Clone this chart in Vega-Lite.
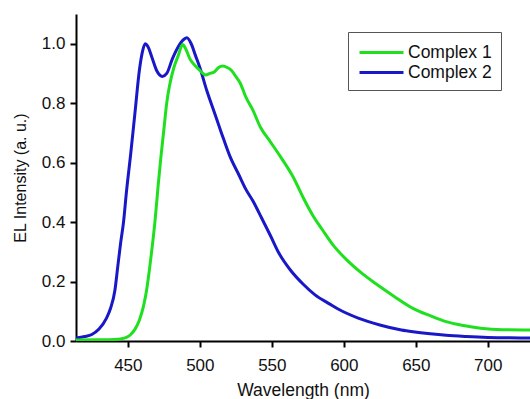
{
  "$schema": "https://vega.github.io/schema/vega-lite/v6.json",
  "autosize": "none",
  "width": 454,
  "height": 327,
  "padding": {"left": 76, "top": 14, "right": 0, "bottom": 58},
  "background": "white",
  "config": {
    "view": {"stroke": null},
    "font": "Liberation Sans",
    "axis": {
      "domainColor": "black", "domainWidth": 2,
      "tickColor": "black", "tickWidth": 2, "tickSize": 6,
      "labelFont": "Liberation Sans", "labelFontSize": 17, "labelColor": "#111",
      "titleFont": "Liberation Sans", "titleFontSize": 17.5, "titleFontWeight": "normal", "titleColor": "#111",
      "grid": false
    }
  },
  "datasets": {
    "spectra": [
      {"wl": 414, "v": 0.01, "s": "Complex 2"},
      {"wl": 420, "v": 0.015, "s": "Complex 2"},
      {"wl": 425, "v": 0.022, "s": "Complex 2"},
      {"wl": 430, "v": 0.04, "s": "Complex 2"},
      {"wl": 435, "v": 0.075, "s": "Complex 2"},
      {"wl": 438, "v": 0.11, "s": "Complex 2"},
      {"wl": 441, "v": 0.17, "s": "Complex 2"},
      {"wl": 443, "v": 0.25, "s": "Complex 2"},
      {"wl": 445, "v": 0.33, "s": "Complex 2"},
      {"wl": 447, "v": 0.4, "s": "Complex 2"},
      {"wl": 449, "v": 0.5, "s": "Complex 2"},
      {"wl": 452, "v": 0.63, "s": "Complex 2"},
      {"wl": 455, "v": 0.77, "s": "Complex 2"},
      {"wl": 458, "v": 0.91, "s": "Complex 2"},
      {"wl": 460, "v": 0.97, "s": "Complex 2"},
      {"wl": 462, "v": 1.0, "s": "Complex 2"},
      {"wl": 464, "v": 0.99, "s": "Complex 2"},
      {"wl": 467, "v": 0.95, "s": "Complex 2"},
      {"wl": 470, "v": 0.91, "s": "Complex 2"},
      {"wl": 474, "v": 0.89, "s": "Complex 2"},
      {"wl": 477, "v": 0.9, "s": "Complex 2"},
      {"wl": 481, "v": 0.95, "s": "Complex 2"},
      {"wl": 485, "v": 0.99, "s": "Complex 2"},
      {"wl": 489, "v": 1.015, "s": "Complex 2"},
      {"wl": 491, "v": 1.02, "s": "Complex 2"},
      {"wl": 494, "v": 1.0, "s": "Complex 2"},
      {"wl": 497, "v": 0.96, "s": "Complex 2"},
      {"wl": 500, "v": 0.92, "s": "Complex 2"},
      {"wl": 505, "v": 0.84, "s": "Complex 2"},
      {"wl": 510, "v": 0.77, "s": "Complex 2"},
      {"wl": 515, "v": 0.7, "s": "Complex 2"},
      {"wl": 521, "v": 0.62, "s": "Complex 2"},
      {"wl": 527, "v": 0.56, "s": "Complex 2"},
      {"wl": 532, "v": 0.51, "s": "Complex 2"},
      {"wl": 537, "v": 0.47, "s": "Complex 2"},
      {"wl": 543, "v": 0.413, "s": "Complex 2"},
      {"wl": 549, "v": 0.355, "s": "Complex 2"},
      {"wl": 555, "v": 0.295, "s": "Complex 2"},
      {"wl": 563, "v": 0.238, "s": "Complex 2"},
      {"wl": 572, "v": 0.19, "s": "Complex 2"},
      {"wl": 580, "v": 0.155, "s": "Complex 2"},
      {"wl": 590, "v": 0.125, "s": "Complex 2"},
      {"wl": 597, "v": 0.105, "s": "Complex 2"},
      {"wl": 610, "v": 0.077, "s": "Complex 2"},
      {"wl": 625, "v": 0.054, "s": "Complex 2"},
      {"wl": 640, "v": 0.037, "s": "Complex 2"},
      {"wl": 648, "v": 0.031, "s": "Complex 2"},
      {"wl": 660, "v": 0.024, "s": "Complex 2"},
      {"wl": 671, "v": 0.019, "s": "Complex 2"},
      {"wl": 685, "v": 0.015, "s": "Complex 2"},
      {"wl": 700, "v": 0.012, "s": "Complex 2"},
      {"wl": 715, "v": 0.011, "s": "Complex 2"},
      {"wl": 730, "v": 0.01, "s": "Complex 2"},
      {"wl": 414, "v": 0.003, "s": "Complex 1"},
      {"wl": 430, "v": 0.004, "s": "Complex 1"},
      {"wl": 440, "v": 0.005, "s": "Complex 1"},
      {"wl": 445, "v": 0.007, "s": "Complex 1"},
      {"wl": 449, "v": 0.012, "s": "Complex 1"},
      {"wl": 452, "v": 0.022, "s": "Complex 1"},
      {"wl": 455, "v": 0.04, "s": "Complex 1"},
      {"wl": 458, "v": 0.07, "s": "Complex 1"},
      {"wl": 461, "v": 0.12, "s": "Complex 1"},
      {"wl": 463, "v": 0.17, "s": "Complex 1"},
      {"wl": 465, "v": 0.24, "s": "Complex 1"},
      {"wl": 467, "v": 0.32, "s": "Complex 1"},
      {"wl": 469, "v": 0.41, "s": "Complex 1"},
      {"wl": 471, "v": 0.52, "s": "Complex 1"},
      {"wl": 473, "v": 0.62, "s": "Complex 1"},
      {"wl": 475, "v": 0.71, "s": "Complex 1"},
      {"wl": 477, "v": 0.8, "s": "Complex 1"},
      {"wl": 479, "v": 0.86, "s": "Complex 1"},
      {"wl": 482, "v": 0.92, "s": "Complex 1"},
      {"wl": 485, "v": 0.96, "s": "Complex 1"},
      {"wl": 488, "v": 0.997, "s": "Complex 1"},
      {"wl": 490, "v": 0.985, "s": "Complex 1"},
      {"wl": 493, "v": 0.95, "s": "Complex 1"},
      {"wl": 496, "v": 0.93, "s": "Complex 1"},
      {"wl": 500, "v": 0.91, "s": "Complex 1"},
      {"wl": 504, "v": 0.895, "s": "Complex 1"},
      {"wl": 507, "v": 0.9, "s": "Complex 1"},
      {"wl": 510, "v": 0.905, "s": "Complex 1"},
      {"wl": 513, "v": 0.92, "s": "Complex 1"},
      {"wl": 516, "v": 0.925, "s": "Complex 1"},
      {"wl": 519, "v": 0.92, "s": "Complex 1"},
      {"wl": 522, "v": 0.91, "s": "Complex 1"},
      {"wl": 525, "v": 0.89, "s": "Complex 1"},
      {"wl": 528, "v": 0.868, "s": "Complex 1"},
      {"wl": 532, "v": 0.82, "s": "Complex 1"},
      {"wl": 537, "v": 0.775, "s": "Complex 1"},
      {"wl": 542, "v": 0.72, "s": "Complex 1"},
      {"wl": 549, "v": 0.67, "s": "Complex 1"},
      {"wl": 556, "v": 0.62, "s": "Complex 1"},
      {"wl": 565, "v": 0.55, "s": "Complex 1"},
      {"wl": 572, "v": 0.48, "s": "Complex 1"},
      {"wl": 579, "v": 0.418, "s": "Complex 1"},
      {"wl": 585, "v": 0.375, "s": "Complex 1"},
      {"wl": 593, "v": 0.32, "s": "Complex 1"},
      {"wl": 602, "v": 0.273, "s": "Complex 1"},
      {"wl": 612, "v": 0.23, "s": "Complex 1"},
      {"wl": 623, "v": 0.19, "s": "Complex 1"},
      {"wl": 635, "v": 0.15, "s": "Complex 1"},
      {"wl": 648, "v": 0.11, "s": "Complex 1"},
      {"wl": 660, "v": 0.085, "s": "Complex 1"},
      {"wl": 671, "v": 0.065, "s": "Complex 1"},
      {"wl": 683, "v": 0.052, "s": "Complex 1"},
      {"wl": 695, "v": 0.043, "s": "Complex 1"},
      {"wl": 710, "v": 0.038, "s": "Complex 1"},
      {"wl": 730, "v": 0.037, "s": "Complex 1"}
    ]
  },
  "layer": [
    {
      "data": {"name": "spectra"},
      "mark": {"type": "line", "strokeWidth": 3, "interpolate": "monotone", "clip": true},
      "encoding": {
        "x": {
          "field": "wl", "type": "quantitative",
          "scale": {"domain": [414, 729.3], "nice": false, "zero": false},
          "axis": {"values": [450, 500, 550, 600, 650, 700], "title": "Wavelength (nm)", "titlePadding": 8, "labelPadding": 10}
        },
        "y": {
          "field": "v", "type": "quantitative",
          "scale": {"domain": [0, 1.1], "nice": false},
          "axis": {"values": [0, 0.2, 0.4, 0.6, 0.8, 1.0], "format": ".1f", "title": "EL Intensity (a. u.)", "titlePadding": 13, "labelPadding": 5, "titleFontSize": 16}
        },
        "color": {
          "field": "s", "type": "nominal",
          "scale": {"domain": ["Complex 1", "Complex 2"], "range": ["#1fe01f", "#1818c8"]},
          "legend": {
            "title": null, "orient": "none", "legendX": 272, "legendY": 18,
            "symbolType": "M-2.2,0H2.2", "symbolSize": 400, "symbolStrokeWidth": 3,
            "symbolOffset": 13, "symbolFillColor": "transparent",
            "labelFont": "Liberation Sans", "labelFontSize": 17.5, "labelColor": "#111",
            "labelOffset": 15, "rowPadding": 0,
            "strokeColor": "#555", "padding": 9, "fillColor": "white"
          }
        }
      }
    },
    {
      "mark": {"type": "rule", "color": "black", "strokeWidth": 2},
      "encoding": {"y": {"datum": 1.1}}
    }
  ]
}
